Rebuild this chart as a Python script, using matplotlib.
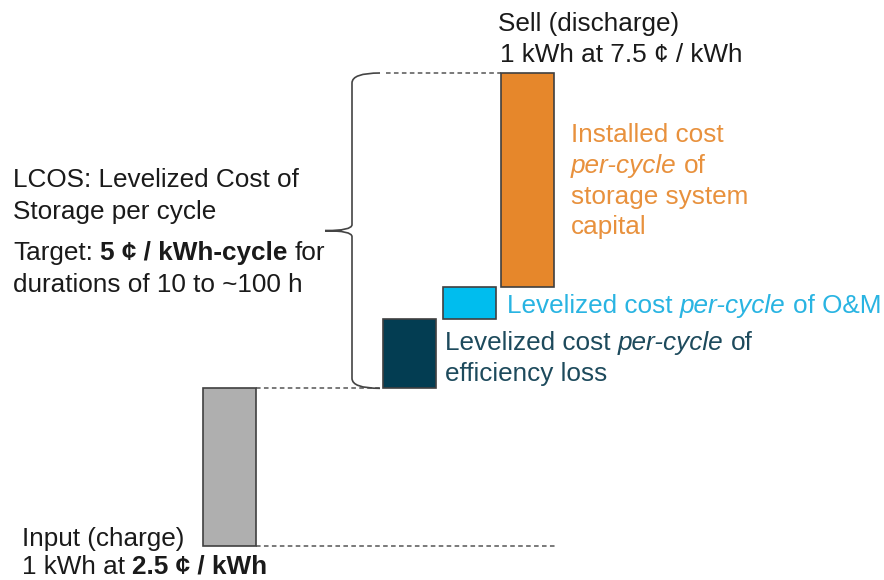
import matplotlib
matplotlib.use("Agg")
import matplotlib.pyplot as plt
from matplotlib.path import Path
from matplotlib.patches import PathPatch
import numpy as np

# Waterfall values in cents per kWh-cycle
steps = ["Input (charge)", "Efficiency loss", "O&M", "Installed capital"]
values = [2.5, 1.1, 0.5, 3.4]
bar_colors = ["#afafaf", "#033d52", "#00bdee", "#e6872b"]

W, H = 884, 580
FS = 18.8
plt.rcParams["font.family"] = ["Liberation Sans", "DejaVu Sans"]

fig = plt.figure(figsize=(W / 100, H / 100), dpi=100)
ax = fig.add_axes([0, 0, 1, 1])
ax.axis("off")

# x in pixels, y in cents (0 at y=546 px, 7.5 at y=73 px)
k = (546 - 73) / 7.5
ax.set_xlim(0, W)
ax.set_ylim(-(H - 546) / k, 7.5 + 73 / k)

x_pos = [229.5, 409.5, 469, 527]
bar_w = 53

bottoms = np.concatenate([[0], np.cumsum(values)[:-1]])
total = sum(values)
ax.bar(x_pos, values, bottom=bottoms, width=bar_w, color=bar_colors,
       edgecolor="#404040", linewidth=1.2, zorder=3)

# dashed guides
dash = dict(color="#555555", lw=1.1, ls=(0, (3, 2.2)), zorder=1)
gray_right = x_pos[0] + bar_w / 2
ax.plot([gray_right, 557], [0, 0], **dash)
ax.plot([gray_right, x_pos[1] - bar_w / 2], [values[0], values[0]], **dash)
ax.plot([386, x_pos[3] - bar_w / 2], [total, total], **dash)

# curly brace over the LCOS part
top, bot = total, values[0]
mid = (top + bot) / 2
r, t = 10 / k, 6 / k
xb, xe, xt = 352, 380, 325
verts = [(xe, top), (xb, top), (xb, top - r),
         (xb, mid + t), (xb, mid), (xt, mid),
         (xb, mid), (xb, mid - t),
         (xb, bot + r), (xb, bot), (xe, bot)]
codes = [Path.MOVETO, Path.CURVE3, Path.CURVE3,
         Path.LINETO, Path.CURVE3, Path.CURVE3,
         Path.CURVE3, Path.CURVE3,
         Path.LINETO, Path.CURVE3, Path.CURVE3]
ax.add_patch(PathPatch(Path(verts, codes), fill=False, edgecolor="#444444",
                       lw=1.2, zorder=2))


def rich(x, y, parts, color="#1a1a1a"):
    # parts: list of (text, style), style: n / b / i ; x, y in pixels from top-left
    prev = None
    for txt, st in parts:
        kw = dict(fontsize=FS, color=color,
                  fontweight="bold" if st == "b" else "normal",
                  fontstyle="italic" if st == "i" else "normal")
        gap = 0.278 * FS if txt.startswith(" ") else 0
        txt = txt.strip()
        if prev is None:
            prev = fig.text(x / W, 1 - y / H, txt, ha="left", va="baseline", **kw)
        else:
            prev = ax.annotate(txt, xy=(1, 0), xycoords=prev, xytext=(gap, 0),
                               textcoords="offset points", ha="left", va="bottom", **kw)


orange_t = "#e8913d"
cyan_t = "#29b4e2"
dark_t = "#1d4a5c"

rich(498, 31, [("Sell (discharge)", "n")])
rich(500, 62, [("1 kWh at 7.5 ¢ / kWh", "n")])

rich(571, 142, [("Installed cost", "n")], orange_t)
rich(571, 173, [("per-cycle", "i"), (" of", "n")], orange_t)
rich(571, 204, [("storage system", "n")], orange_t)
rich(571, 234, [("capital", "n")], orange_t)

rich(507, 313, [("Levelized cost", "n"), (" per-cycle", "i"), (" of O&M", "n")], cyan_t)

rich(445, 350, [("Levelized cost", "n"), (" per-cycle", "i"), (" of", "n")], dark_t)
rich(445, 381, [("efficiency loss", "n")], dark_t)

rich(13, 187, [("LCOS: Levelized Cost of", "n")])
rich(13, 219, [("Storage per cycle", "n")])
rich(13, 260, [("Target:", "n"), (" 5 ¢ / kWh-cycle", "b"), (" for", "n")])
rich(13, 292, [("durations of 10 to ~100 h", "n")])

rich(22, 546, [("Input (charge)", "n")])
rich(22, 574, [("1 kWh at", "n"), (" 2.5 ¢ / kWh", "b")])

fig.savefig("out.png", dpi=100, facecolor="white")
